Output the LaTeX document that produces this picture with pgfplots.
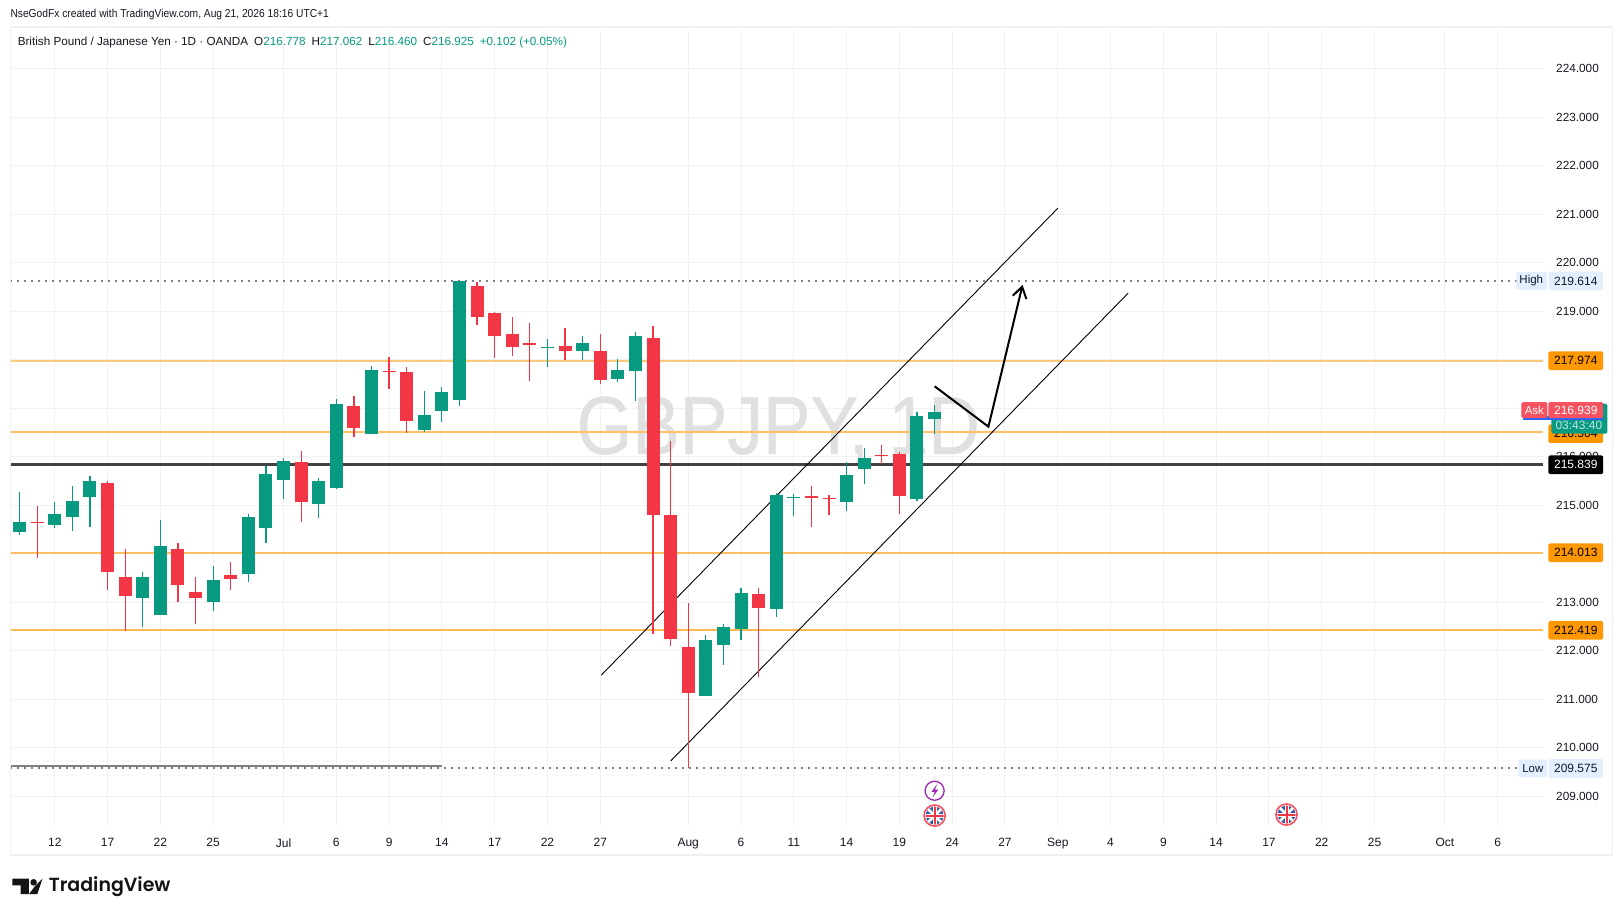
\documentclass[border=0pt]{standalone}
\usepackage{fontspec}
\setmainfont{Liberation Sans}
\usepackage{pgfplots}
\usepackage{pgfplotstable}
\pgfplotsset{compat=1.18}
\usetikzlibrary{arrows.meta}
\definecolor{tvgreen}{HTML}{089981}
\definecolor{tvred}{HTML}{F23645}
\definecolor{tvgrid}{HTML}{F0F1F3}
\definecolor{tvtxt}{HTML}{131722}
\definecolor{tvorange}{HTML}{FF9800}
\definecolor{tvpale}{HTML}{E3EFFD}
\definecolor{tvask}{HTML}{F7525F}
\definecolor{tvblue}{HTML}{2962FF}
\definecolor{tvpurple}{HTML}{9C27B0}
\definecolor{ukblue}{HTML}{2A5CAA}

% columns: bar index, body bottom, body top, low, high
\pgfplotstableread{
x bot top low high
0 214.443 214.643 214.395 215.261
2 214.601 214.828 214.539 215.055
3 214.746 215.096 214.457 215.405
4 215.158 215.488 214.560 215.591
7 213.096 213.509 212.498 213.612
8 212.746 214.148 212.746 214.704
11 213.014 213.447 212.828 213.756
13 213.591 214.766 213.426 214.808
14 214.539 215.632 214.210 215.797
15 215.509 215.900 215.137 215.962
17 215.014 215.488 214.725 215.550
18 215.344 217.076 215.323 217.179
20 216.457 217.777 216.457 217.859
23 216.540 216.849 216.498 217.344
24 216.931 217.323 216.704 217.426
25 217.158 219.612 217.034 219.614
30 218.240 218.262 217.838 218.420
32 218.172 218.335 217.987 218.477
34 217.610 217.781 217.532 218.008
35 217.760 218.477 217.156 218.562
39 211.074 212.211 211.074 212.332
40 212.125 212.495 211.713 212.559
41 212.438 213.198 212.225 213.298
43 212.850 215.202 212.701 215.252
44 215.150 215.172 214.768 215.238
47 215.074 215.614 214.889 215.898
48 215.735 215.962 215.429 216.168
51 215.117 216.829 215.088 216.914
52 216.778 216.925 216.460 217.062
}\greenbars
\pgfplotstableread{
x bot top low high
1 214.622 214.652 213.907 214.973
5 213.612 215.467 213.241 215.488
6 213.137 213.509 212.416 214.086
9 213.344 214.086 213.014 214.230
10 213.076 213.220 212.560 213.529
12 213.488 213.570 213.241 213.838
16 215.055 215.880 214.663 216.107
19 216.581 217.034 216.395 217.241
21 217.750 217.775 217.385 218.045
22 216.725 217.735 216.478 217.838
26 218.869 219.509 218.704 219.591
27 218.478 218.952 218.024 218.973
28 218.251 218.519 218.065 218.869
29 218.292 218.333 217.550 218.746
31 218.172 218.271 217.987 218.648
33 217.575 218.172 217.490 218.520
36 214.804 218.442 212.353 218.683
37 212.246 214.804 212.104 216.332
38 211.138 212.083 209.575 212.992
42 212.886 213.177 211.465 213.284
45 215.138 215.180 214.541 215.387
46 215.122 215.145 214.790 215.202
49 216.005 216.030 215.856 216.232
50 215.181 216.047 214.825 216.104
}\redbars

\newcommand{\pricetag}[4]{% y, fill, text colour, text
  \fill[#2,rounded corners=1.5pt] (1496,#1-9) rectangle (1549,#1+9);
  \node[text=#3,font=\fontsize{12}{14}\selectfont] at (1522.5,#1) {#4};}

\newcommand{\ukflag}[2]{%
  \begin{scope}[shift={(#1,#2)}]
    \fill[white] (0,0) circle (10.5);
    \begin{scope}
      \clip (0,0) circle (8.6);
      \fill[ukblue] (-10,-10) rectangle (10,10);
      \draw[white,line width=2.6pt] (-9,-9)--(9,9) (-9,9)--(9,-9);
      \draw[white,line width=4pt] (-10,0)--(10,0) (0,-10)--(0,10);
      \draw[tvred,line width=2pt] (-10,0)--(10,0) (0,-10)--(0,10);
    \end{scope}
    \draw[tvask,line width=1.6pt] (0,0) circle (10.2);
  \end{scope}}

\begin{document}
\begin{tikzpicture}
\begin{axis}[
  at={(10.35pt,91pt)},anchor=south west,
  scale only axis,width=1532.7pt,height=793.9pt,
  xmin=-0.524,xmax=86.58,ymin=208.407,ymax=224.772,
  set layers=standard,
  axis line style={draw=none},
  major tick length=0pt,
  xmajorgrids,ymajorgrids,
  grid style={tvgrid,line width=1pt},
  xtick={2,5,8,11,15,18,21,24,27,30,33,38,41,44,47,50,53,56,59,62,65,68,71,74,77,81,84},
  xticklabels={12,17,22,25,Jul,6,9,14,17,22,27,Aug,6,11,14,19,24,27,Sep,4,9,14,17,22,25,Oct,6},
  ytick={209,210,211,212,213,214,215,216,217,218,219,220,221,222,223,224},
  yticklabel pos=right,
  xticklabel style={font=\fontsize{12}{14}\selectfont,text=tvtxt,yshift=-10pt},
  yticklabel style={font=\fontsize{11.8}{14}\selectfont,text=tvtxt,xshift=9.6pt},
  /pgf/number format/.cd,fixed,fixed zerofill,precision=3,1000 sep={},assume math mode=true,
]
% watermark
\node[anchor=west,text=black!12,inner sep=0pt,font=\fontsize{82}{90}\selectfont] at (axis cs:31.65,216.54) {\addfontfeatures{FakeBold=0.6}\scalebox{0.87}[1]{GBPJPY, 1D}};

% horizontal levels
\addplot[draw=tvorange!52,line width=2pt,forget plot] coordinates {(-0.524,217.974) (86.58,217.974)};
\addplot[draw=tvorange!60,line width=2pt,forget plot] coordinates {(-0.524,216.504) (86.58,216.504)};
\addplot[draw=tvorange!62,line width=2pt,forget plot] coordinates {(-0.524,214.013) (86.58,214.013)};
\addplot[draw=tvorange!68,line width=2pt,forget plot] coordinates {(-0.524,212.419) (86.58,212.419)};
\addplot[draw=black!74,line width=3.2pt,forget plot] coordinates {(-0.524,215.839) (86.58,215.839)};
\addplot[draw=black!50,line width=2pt,dash pattern=on 2pt off 5pt,forget plot] coordinates {(-0.524,219.614) (86.58,219.614)};
\addplot[draw=black!50,line width=2pt,dash pattern=on 2pt off 5pt,forget plot] coordinates {(-0.524,209.575) (86.58,209.575)};
\addplot[draw=black!50,line width=2pt,forget plot] coordinates {(-0.524,209.615) (24,209.615)};

% channel
\addplot[draw=black,line width=0.9pt,forget plot] coordinates {(33.06,211.497) (59,221.120)};
\addplot[draw=black,line width=0.9pt,forget plot] coordinates {(37,209.726) (63,219.370)};

% wicks
\addplot[draw=none,mark=none,forget plot,error bars/.cd,y dir=plus,y explicit,error mark=none,
  error bar style={draw=tvgreen,line width=1.2pt}]
  table[x=x,y=low,y error expr=\thisrow{high}-\thisrow{low}] {\greenbars};
\addplot[draw=none,mark=none,forget plot,error bars/.cd,y dir=plus,y explicit,error mark=none,
  error bar style={draw=tvred,line width=1.2pt}]
  table[x=x,y=low,y error expr=\thisrow{high}-\thisrow{low}] {\redbars};
% bodies
\addplot[draw=none,mark=none,forget plot,error bars/.cd,y dir=plus,y explicit,error mark=none,
  error bar style={draw=tvgreen,line width=13pt}]
  table[x=x,y=bot,y error expr=\thisrow{top}-\thisrow{bot}] {\greenbars};
\addplot[draw=none,mark=none,forget plot,error bars/.cd,y dir=plus,y explicit,error mark=none,
  error bar style={draw=tvred,line width=13pt}]
  table[x=x,y=bot,y error expr=\thisrow{top}-\thisrow{bot}] {\redbars};

% forecast arrow
\addplot[draw=black,line width=2pt,-{Straight Barb[length=11pt,width=14pt,line width=2pt]},forget plot]
  coordinates {(52,217.450) (55.06,216.618) (57,219.541)};
\end{axis}
\pgfresetboundingbox
\path[use as bounding box] (0,0) rectangle (1623pt,916pt);

% everything below: coordinates are pixels of the reference's view, top-left origin
\begin{scope}[x=1.035pt,y=-1.035pt,yshift=916pt]
  % pane frame
  \draw[tvgrid,line width=1.6pt] (10,26) rectangle (1558,826);
  % header
  \node[anchor=west,inner sep=0pt,text=tvtxt,font=\fontsize{11.5}{14}\selectfont] at (10,14.5)
    {\scalebox{0.89}[1]{NseGodFx created with TradingView.com, Aug 21, 2026 18:16 UTC+1}};
  \node[anchor=west,inner sep=0pt,text=tvtxt,font=\fontsize{11.7}{14}\selectfont] at (17,41.5)
    {British Pound / Japanese Yen · 1D · OANDA\hspace{6pt}O\textcolor{tvgreen}{216.778}\hspace{6pt}H\textcolor{tvgreen}{217.062}\hspace{6pt}L\textcolor{tvgreen}{216.460}\hspace{6pt}C\textcolor{tvgreen}{216.925}\hspace{6pt}\textcolor{tvgreen}{+0.102 (+0.05\%)}};
  % logo
  \fill[black!92] (12,849) -- (28,849) -- (28,864) -- (20,864) -- (20,855.5) -- (12,855.5) -- cycle;
  \fill[black!92] (32.5,852.5) circle (3.2);
  \fill[black!92] (36,864) -- (41,849) -- (33.5,856.5) -- (28,864) -- cycle;
  \node[anchor=west,inner sep=0pt,text=black!92,font=\fontspec{Poppins SemiBold}\fontsize{19}{24}\selectfont] at (47,857) {TradingView};
  % right-hand tags
  \pricetag{271.5}{tvpale}{tvtxt}{219.614}
  \fill[tvpale,rounded corners=1.5pt] (1465,263) rectangle (1494.5,280);
  \node[text=tvtxt,font=\fontsize{11.5}{14}\selectfont] at (1479.5,271.5) {High};
  \pricetag{742.5}{tvpale}{tvtxt}{209.575}
  \fill[tvpale,rounded corners=1.5pt] (1467,734) rectangle (1494.5,751);
  \node[text=tvtxt,font=\fontsize{11.5}{14}\selectfont] at (1481,742.5) {Low};
  \pricetag{348.5}{tvorange}{black}{217.974}
  \pricetag{534}{tvorange}{black}{214.013}
  \pricetag{609}{tvorange}{black}{212.419}
  \pricetag{419}{tvorange}{black}{216.504}
  \fill[tvgreen,rounded corners=1.5pt] (1499,390) rectangle (1553,419);
  \node[text=white!75!tvgreen,font=\fontsize{12}{14}\selectfont] at (1525.5,411) {03:43:40};
  \fill[tvblue] (1471,402) rectangle (1549,405.5);
  \fill[tvask,rounded corners=1.5pt] (1496,388.5) rectangle (1549,404);
  \fill[tvask,rounded corners=1.5pt] (1470,388.5) rectangle (1495,404);
  \node[text=white,font=\fontsize{12}{14}\selectfont] at (1522.5,396.5) {216.939};
  \node[text=white,font=\fontsize{11.5}{14}\selectfont] at (1482.5,396.5) {Ask};
  \pricetag{449}{black}{white}{215.839}
  % event icons
  \fill[white] (903,764) circle (10);
  \draw[tvpurple,line width=1.3pt] (903,764) circle (9.2);
  \fill[tvpurple] (905.5,757.5) -- (900,765) -- (903.2,765) -- (901,770.5) -- (906.5,763) -- (903.3,763) -- cycle;
  \ukflag{903}{788}
  \ukflag{1243}{787}
\end{scope}
\end{tikzpicture}
\end{document}
